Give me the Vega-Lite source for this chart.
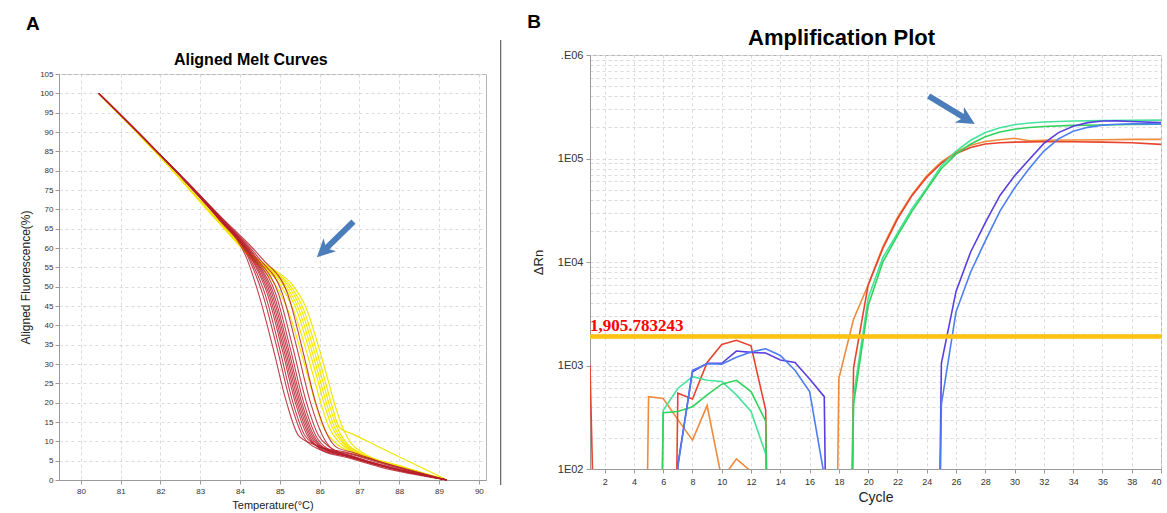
{
"$schema": "https://vega.github.io/schema/vega-lite/v6.json",
"background": "white",
"padding": {"left": 19, "top": 12, "right": 0, "bottom": 0},
"spacing": 24,
"config": {
  "font": "Liberation Sans",
  "view": {"stroke": "#b4b4b4", "strokeWidth": 1},
  "axis": {"gridColor": "#dadada", "gridDash": [3, 3], "domainColor": "#9a9a9a", "tickColor": "#9a9a9a", "labelColor": "#333333", "titleColor": "#222222", "titleFontWeight": "normal", "labelFont": "Liberation Sans", "titleFont": "Liberation Sans", "labelOverlap": false}
},
"datasets": {
"meltRed": [
{"s":1,"t":80.45,"f":100},{"s":1,"t":82.0,"f":84},{"s":1,"t":83.46,"f":67.5},{"s":1,"t":84.16,"f":57.5},{"s":1,"t":84.47,"f":48},{"s":1,"t":84.82,"f":34.5},{"s":1,"t":85.17,"f":20},{"s":1,"t":85.47,"f":11.5},{"s":1,"t":85.9,"f":9},{"s":1,"t":86.59,"f":6.5},{"s":1,"t":87.46,"f":4.2},{"s":1,"t":89.2,"f":0},
{"s":2,"t":80.45,"f":100},{"s":2,"t":82.0,"f":84},{"s":2,"t":83.47,"f":68},{"s":2,"t":84.21,"f":57.5},{"s":2,"t":84.57,"f":48},{"s":2,"t":84.92,"f":34.5},{"s":2,"t":85.27,"f":20},{"s":2,"t":85.57,"f":11.5},{"s":2,"t":85.97,"f":8},{"s":2,"t":86.63,"f":6.2},{"s":2,"t":87.47,"f":3.8},{"s":2,"t":89.2,"f":0},
{"s":3,"t":80.45,"f":100},{"s":3,"t":82.0,"f":84},{"s":3,"t":83.48,"f":67.5},{"s":3,"t":84.24,"f":57.5},{"s":3,"t":84.63,"f":48},{"s":3,"t":84.98,"f":34.5},{"s":3,"t":85.33,"f":20},{"s":3,"t":85.63,"f":11.5},{"s":3,"t":86.02,"f":8.5},{"s":3,"t":86.65,"f":7.2},{"s":3,"t":87.48,"f":4.8},{"s":3,"t":89.2,"f":0},
{"s":4,"t":80.45,"f":100},{"s":4,"t":82.0,"f":84},{"s":4,"t":83.49,"f":67.5},{"s":4,"t":84.27,"f":57.5},{"s":4,"t":84.69,"f":48},{"s":4,"t":85.04,"f":34.5},{"s":4,"t":85.39,"f":20},{"s":4,"t":85.69,"f":11.5},{"s":4,"t":86.06,"f":8},{"s":4,"t":86.68,"f":6.2},{"s":4,"t":87.49,"f":3.8},{"s":4,"t":89.2,"f":0},
{"s":5,"t":80.45,"f":100},{"s":5,"t":82.0,"f":84},{"s":5,"t":83.5,"f":67.5},{"s":5,"t":84.29,"f":57.5},{"s":5,"t":84.73,"f":48},{"s":5,"t":85.08,"f":34.5},{"s":5,"t":85.43,"f":20},{"s":5,"t":85.73,"f":11.5},{"s":5,"t":86.09,"f":7.5},{"s":5,"t":86.69,"f":5.8},{"s":5,"t":87.5,"f":3.4},{"s":5,"t":89.2,"f":0},
{"s":6,"t":80.45,"f":100},{"s":6,"t":82.0,"f":84},{"s":6,"t":83.5,"f":67.5},{"s":6,"t":84.31,"f":57.5},{"s":6,"t":84.77,"f":48},{"s":6,"t":85.12,"f":34.5},{"s":6,"t":85.47,"f":20},{"s":6,"t":85.77,"f":11.5},{"s":6,"t":86.11,"f":8},{"s":6,"t":86.71,"f":6.2},{"s":6,"t":87.5,"f":3.8},{"s":6,"t":89.2,"f":0},
{"s":7,"t":80.45,"f":100},{"s":7,"t":82.0,"f":84},{"s":7,"t":83.51,"f":67},{"s":7,"t":84.33,"f":57.5},{"s":7,"t":84.81,"f":48},{"s":7,"t":85.16,"f":34.5},{"s":7,"t":85.51,"f":20},{"s":7,"t":85.81,"f":11.5},{"s":7,"t":86.14,"f":8},{"s":7,"t":86.72,"f":6.2},{"s":7,"t":87.51,"f":3.8},{"s":7,"t":89.2,"f":0},
{"s":8,"t":80.45,"f":100},{"s":8,"t":82.0,"f":84},{"s":8,"t":83.52,"f":67.5},{"s":8,"t":84.35,"f":57.5},{"s":8,"t":84.85,"f":48},{"s":8,"t":85.2,"f":34.5},{"s":8,"t":85.55,"f":20},{"s":8,"t":85.85,"f":11.5},{"s":8,"t":86.17,"f":8},{"s":8,"t":86.74,"f":6.8},{"s":8,"t":87.52,"f":4.4},{"s":8,"t":89.2,"f":0},
{"s":9,"t":80.45,"f":100},{"s":9,"t":82.0,"f":84},{"s":9,"t":83.52,"f":67.5},{"s":9,"t":84.38,"f":57.5},{"s":9,"t":84.9,"f":48},{"s":9,"t":85.25,"f":34.5},{"s":9,"t":85.6,"f":20},{"s":9,"t":85.9,"f":11.5},{"s":9,"t":86.21,"f":8},{"s":9,"t":86.76,"f":6.2},{"s":9,"t":87.52,"f":3.8},{"s":9,"t":89.2,"f":0},
{"s":10,"t":80.45,"f":100},{"s":10,"t":82.0,"f":84},{"s":10,"t":83.53,"f":67.5},{"s":10,"t":84.41,"f":57.5},{"s":10,"t":84.97,"f":48},{"s":10,"t":85.32,"f":34.5},{"s":10,"t":85.67,"f":20},{"s":10,"t":85.97,"f":11.5},{"s":10,"t":86.25,"f":8.5},{"s":10,"t":86.79,"f":6.2},{"s":10,"t":87.53,"f":3.8},{"s":10,"t":89.2,"f":0},
{"s":11,"t":80.45,"f":100},{"s":11,"t":82.0,"f":84},{"s":11,"t":83.55,"f":67.5},{"s":11,"t":84.46,"f":57.5},{"s":11,"t":85.07,"f":48},{"s":11,"t":85.42,"f":34.5},{"s":11,"t":85.77,"f":20},{"s":11,"t":86.07,"f":11.5},{"s":11,"t":86.32,"f":8},{"s":11,"t":86.83,"f":6.2},{"s":11,"t":87.55,"f":3.8},{"s":11,"t":89.2,"f":0},
{"s":12,"t":80.45,"f":100},{"s":12,"t":82.0,"f":84},{"s":12,"t":83.57,"f":67.5},{"s":12,"t":84.53,"f":57.5},{"s":12,"t":85.2,"f":48},{"s":12,"t":85.55,"f":34.5},{"s":12,"t":85.9,"f":20},{"s":12,"t":86.2,"f":11.5},{"s":12,"t":86.42,"f":8.5},{"s":12,"t":86.88,"f":7},{"s":12,"t":87.57,"f":4.5},{"s":12,"t":89.2,"f":0}
],
"meltYellow": [
{"s":1,"t":80.45,"f":100},{"s":1,"t":82.0,"f":83.5},{"s":1,"t":83.47,"f":66.5},{"s":1,"t":84.31,"f":57},{"s":1,"t":84.62,"f":54},{"s":1,"t":84.88,"f":50.5},{"s":1,"t":85.2,"f":44},{"s":1,"t":85.45,"f":36},{"s":1,"t":85.7,"f":27},{"s":1,"t":85.9,"f":19.5},{"s":1,"t":86.1,"f":13.5},{"s":1,"t":86.41,"f":9.5},{"s":1,"t":86.85,"f":7},{"s":1,"t":87.94,"f":3.6},{"s":1,"t":89.2,"f":0},
{"s":2,"t":80.45,"f":100},{"s":2,"t":82.0,"f":83.5},{"s":2,"t":83.48,"f":66.5},{"s":2,"t":84.35,"f":57},{"s":2,"t":84.7,"f":54},{"s":2,"t":85.01,"f":50.5},{"s":2,"t":85.34,"f":44},{"s":2,"t":85.59,"f":36},{"s":2,"t":85.84,"f":27},{"s":2,"t":86.04,"f":19.5},{"s":2,"t":86.24,"f":13.5},{"s":2,"t":86.52,"f":9.5},{"s":2,"t":86.92,"f":7},{"s":2,"t":87.97,"f":3.6},{"s":2,"t":89.2,"f":0},
{"s":3,"t":80.45,"f":100},{"s":3,"t":82.0,"f":83.5},{"s":3,"t":83.49,"f":66.5},{"s":3,"t":84.38,"f":57},{"s":3,"t":84.75,"f":54},{"s":3,"t":85.08,"f":50.5},{"s":3,"t":85.42,"f":44},{"s":3,"t":85.67,"f":36},{"s":3,"t":85.92,"f":27},{"s":3,"t":86.12,"f":19.5},{"s":3,"t":86.32,"f":13.5},{"s":3,"t":86.59,"f":9.5},{"s":3,"t":86.96,"f":7},{"s":3,"t":87.98,"f":3.6},{"s":3,"t":89.2,"f":0},
{"s":4,"t":80.45,"f":100},{"s":4,"t":82.0,"f":83.5},{"s":4,"t":83.5,"f":66.5},{"s":4,"t":84.39,"f":57},{"s":4,"t":84.79,"f":54},{"s":4,"t":85.13,"f":50.5},{"s":4,"t":85.48,"f":44},{"s":4,"t":85.73,"f":36},{"s":4,"t":85.98,"f":27},{"s":4,"t":86.18,"f":19.5},{"s":4,"t":86.38,"f":13.5},{"s":4,"t":86.63,"f":9.5},{"s":4,"t":86.99,"f":7},{"s":4,"t":88.0,"f":3.6},{"s":4,"t":89.2,"f":0},
{"s":5,"t":80.45,"f":100},{"s":5,"t":82.0,"f":83.5},{"s":5,"t":83.5,"f":66.5},{"s":5,"t":84.41,"f":57},{"s":5,"t":84.82,"f":54},{"s":5,"t":85.19,"f":50.5},{"s":5,"t":85.54,"f":44},{"s":5,"t":85.79,"f":36},{"s":5,"t":86.04,"f":27},{"s":5,"t":86.24,"f":19.5},{"s":5,"t":86.44,"f":13.5},{"s":5,"t":86.68,"f":9.5},{"s":5,"t":87.02,"f":7},{"s":5,"t":88.01,"f":3.6},{"s":5,"t":89.2,"f":0},
{"s":6,"t":80.45,"f":100},{"s":6,"t":82.0,"f":83.5},{"s":6,"t":83.51,"f":66.5},{"s":6,"t":84.43,"f":57},{"s":6,"t":84.86,"f":54},{"s":6,"t":85.24,"f":50.5},{"s":6,"t":85.6,"f":44},{"s":6,"t":85.85,"f":36},{"s":6,"t":86.1,"f":27},{"s":6,"t":86.3,"f":19.5},{"s":6,"t":86.5,"f":13.5},{"s":6,"t":86.85,"f":11.8},{"s":6,"t":87.4,"f":9.0},{"s":6,"t":88.2,"f":5.0},{"s":6,"t":89.2,"f":0},
{"s":7,"t":80.45,"f":100},{"s":7,"t":82.0,"f":83.5},{"s":7,"t":83.52,"f":66.5},{"s":7,"t":84.45,"f":57},{"s":7,"t":84.91,"f":54},{"s":7,"t":85.31,"f":50.5},{"s":7,"t":85.68,"f":44},{"s":7,"t":85.93,"f":36},{"s":7,"t":86.18,"f":27},{"s":7,"t":86.38,"f":19.5},{"s":7,"t":86.58,"f":13.5},{"s":7,"t":86.79,"f":9.5},{"s":7,"t":87.09,"f":7},{"s":7,"t":88.04,"f":3.6},{"s":7,"t":89.2,"f":0}
],
"amp": [
{"s":"orange","c":4,"v":1e-8},{"s":"orange","c":5,"v":500},{"s":"orange","c":6,"v":480},{"s":"orange","c":7,"v":300},{"s":"orange","c":8,"v":190},{"s":"orange","c":9,"v":410},{"s":"orange","c":10,"v":80},{"s":"orange","c":11,"v":125},{"s":"orange","c":12,"v":95},{"s":"orange","c":13,"v":1e-8},{"s":"orange","c":17,"v":1e-8},{"s":"orange","c":18,"v":750},{"s":"orange","c":19,"v":2800},{"s":"orange","c":20,"v":6000},{"s":"orange","c":21,"v":14000},{"s":"orange","c":22,"v":27000},{"s":"orange","c":23,"v":45000},{"s":"orange","c":24,"v":68000},{"s":"orange","c":25,"v":93000},{"s":"orange","c":26,"v":116000},{"s":"orange","c":27,"v":134000},{"s":"orange","c":28,"v":146000},{"s":"orange","c":29,"v":152000},{"s":"orange","c":30,"v":157000},{"s":"orange","c":31,"v":148000},{"s":"orange","c":32,"v":150000},{"s":"orange","c":34,"v":151000},{"s":"orange","c":36,"v":152000},{"s":"orange","c":38,"v":153000},{"s":"orange","c":40,"v":153000},
{"s":"red","c":1,"v":1000},{"s":"red","c":2,"v":0.001},{"s":"red","c":6,"v":1e-8},{"s":"red","c":7,"v":540},{"s":"red","c":8,"v":475},{"s":"red","c":9,"v":1070},{"s":"red","c":10,"v":1600},{"s":"red","c":11,"v":1750},{"s":"red","c":12,"v":1550},{"s":"red","c":13,"v":370},{"s":"red","c":14,"v":1e-8},{"s":"red","c":18,"v":1e-8},{"s":"red","c":19,"v":950},{"s":"red","c":20,"v":6000},{"s":"red","c":21,"v":13500},{"s":"red","c":22,"v":26000},{"s":"red","c":23,"v":44000},{"s":"red","c":24,"v":66000},{"s":"red","c":25,"v":90000},{"s":"red","c":26,"v":112000},{"s":"red","c":27,"v":128000},{"s":"red","c":28,"v":138000},{"s":"red","c":29,"v":142000},{"s":"red","c":30,"v":144000},{"s":"red","c":32,"v":145000},{"s":"red","c":34,"v":145000},{"s":"red","c":36,"v":144000},{"s":"red","c":38,"v":142000},{"s":"red","c":40,"v":137000},
{"s":"green1","c":5,"v":1e-8},{"s":"green1","c":6,"v":370},{"s":"green1","c":7,"v":600},{"s":"green1","c":8,"v":780},{"s":"green1","c":9,"v":720},{"s":"green1","c":10,"v":700},{"s":"green1","c":11,"v":520},{"s":"green1","c":12,"v":360},{"s":"green1","c":13,"v":140},{"s":"green1","c":14,"v":1e-8},{"s":"green1","c":18,"v":1e-8},{"s":"green1","c":19,"v":500},{"s":"green1","c":20,"v":4500},{"s":"green1","c":21,"v":11000},{"s":"green1","c":22,"v":19000},{"s":"green1","c":23,"v":33000},{"s":"green1","c":24,"v":52000},{"s":"green1","c":25,"v":85000},{"s":"green1","c":26,"v":118000},{"s":"green1","c":27,"v":150000},{"s":"green1","c":28,"v":178000},{"s":"green1","c":29,"v":198000},{"s":"green1","c":30,"v":212000},{"s":"green1","c":31,"v":220000},{"s":"green1","c":32,"v":225000},{"s":"green1","c":33,"v":228000},{"s":"green1","c":34,"v":230000},{"s":"green1","c":36,"v":232000},{"s":"green1","c":38,"v":234000},{"s":"green1","c":40,"v":235000},
{"s":"green2","c":5,"v":1e-8},{"s":"green2","c":6,"v":350},{"s":"green2","c":7,"v":360},{"s":"green2","c":8,"v":400},{"s":"green2","c":9,"v":520},{"s":"green2","c":10,"v":660},{"s":"green2","c":11,"v":720},{"s":"green2","c":12,"v":560},{"s":"green2","c":13,"v":290},{"s":"green2","c":14,"v":1e-8},{"s":"green2","c":18,"v":1e-8},{"s":"green2","c":19,"v":420},{"s":"green2","c":20,"v":3800},{"s":"green2","c":21,"v":10000},{"s":"green2","c":22,"v":18000},{"s":"green2","c":23,"v":31000},{"s":"green2","c":24,"v":50000},{"s":"green2","c":25,"v":80000},{"s":"green2","c":26,"v":110000},{"s":"green2","c":27,"v":138000},{"s":"green2","c":28,"v":162000},{"s":"green2","c":29,"v":180000},{"s":"green2","c":30,"v":192000},{"s":"green2","c":31,"v":199000},{"s":"green2","c":32,"v":204000},{"s":"green2","c":34,"v":209000},{"s":"green2","c":36,"v":211000},{"s":"green2","c":38,"v":213000},{"s":"green2","c":40,"v":215000},
{"s":"blue1","c":6,"v":1e-8},{"s":"blue1","c":7,"v":110},{"s":"blue1","c":8,"v":870},{"s":"blue1","c":9,"v":1050},{"s":"blue1","c":10,"v":1050},{"s":"blue1","c":11,"v":1380},{"s":"blue1","c":12,"v":1340},{"s":"blue1","c":13,"v":1320},{"s":"blue1","c":14,"v":1130},{"s":"blue1","c":15,"v":1070},{"s":"blue1","c":16,"v":740},{"s":"blue1","c":17,"v":500},{"s":"blue1","c":18,"v":1e-8},{"s":"blue1","c":24,"v":1e-8},{"s":"blue1","c":25,"v":1050},{"s":"blue1","c":26,"v":5200},{"s":"blue1","c":27,"v":12500},{"s":"blue1","c":28,"v":24000},{"s":"blue1","c":29,"v":44000},{"s":"blue1","c":30,"v":68000},{"s":"blue1","c":31,"v":98000},{"s":"blue1","c":32,"v":140000},{"s":"blue1","c":33,"v":178000},{"s":"blue1","c":34,"v":205000},{"s":"blue1","c":35,"v":222000},{"s":"blue1","c":36,"v":230000},{"s":"blue1","c":37,"v":231000},{"s":"blue1","c":38,"v":228000},{"s":"blue1","c":40,"v":222000},
{"s":"blue2","c":6,"v":1e-8},{"s":"blue2","c":7,"v":105},{"s":"blue2","c":8,"v":900},{"s":"blue2","c":9,"v":1040},{"s":"blue2","c":10,"v":1030},{"s":"blue2","c":11,"v":1200},{"s":"blue2","c":12,"v":1350},{"s":"blue2","c":13,"v":1450},{"s":"blue2","c":14,"v":1250},{"s":"blue2","c":15,"v":900},{"s":"blue2","c":16,"v":560},{"s":"blue2","c":17,"v":86},{"s":"blue2","c":18,"v":1e-8},{"s":"blue2","c":24,"v":1e-8},{"s":"blue2","c":25,"v":420},{"s":"blue2","c":26,"v":3300},{"s":"blue2","c":27,"v":8000},{"s":"blue2","c":28,"v":16000},{"s":"blue2","c":29,"v":31000},{"s":"blue2","c":30,"v":52000},{"s":"blue2","c":31,"v":80000},{"s":"blue2","c":32,"v":118000},{"s":"blue2","c":33,"v":155000},{"s":"blue2","c":34,"v":183000},{"s":"blue2","c":35,"v":200000},{"s":"blue2","c":36,"v":210000},{"s":"blue2","c":37,"v":214000},{"s":"blue2","c":38,"v":216000},{"s":"blue2","c":40,"v":216000}
]
},
"hconcat": [
{
  "vconcat": [
    {"width": 10, "height": 1, "view": {"stroke": null}, "data": {"values": []}, "mark": "rule", "encoding": {}},
    {
      "width": 427, "height": 406,
      "layer": [
        {"data": {"name": "meltYellow"}, "mark": {"type": "line", "interpolate": "monotone", "color": "#F2E600", "strokeWidth": 1.2},
         "encoding": {
           "x": {"field": "t", "type": "quantitative", "scale": {"domain": [79.45, 90.18], "nice": false, "zero": false},
                 "axis": {"title": "Temperature(°C)", "values": [80,81,82,83,84,85,86,87,88,89,90], "tickCount": 100, "format": "d", "labelFontSize": 8, "tickSize": 4, "labelPadding": 3, "titleFontSize": 11, "titlePadding": 4}},
           "y": {"field": "f", "type": "quantitative", "scale": {"domain": [0, 105], "nice": false, "zero": false},
                 "axis": {"title": "Aligned Fluorescence(%)", "values": [0,5,10,15,20,25,30,35,40,45,50,55,60,65,70,75,80,85,90,95,100,105], "tickCount": 100, "format": "d", "labelFontSize": 8, "tickSize": 4, "labelPadding": 2, "titleFontSize": 12, "titlePadding": 7}},
           "detail": {"field": "s", "type": "nominal"}
         }},
        {"data": {"name": "meltRed"}, "mark": {"type": "line", "interpolate": "monotone", "color": "#B61E2C", "strokeWidth": 1.1, "opacity": 0.85},
         "encoding": {
           "x": {"field": "t", "type": "quantitative"},
           "y": {"field": "f", "type": "quantitative"},
           "detail": {"field": "s", "type": "nominal"}
         }},
        {"data": {"values": [{"t": 86.85, "f": 66.8, "t2": 86.11, "f2": 59.4}]}, "mark": {"type": "rule", "color": "#4A7DBA", "strokeWidth": 6},
         "encoding": {"x": {"field": "t", "type": "quantitative"}, "y": {"field": "f", "type": "quantitative"}, "x2": {"field": "t2"}, "y2": {"field": "f2"}}},
        {"data": {"values": [{"t": 85.93, "f": 57.6}]}, "mark": {"type": "point", "shape": "M0,0L0.95,1.9L0,1.35L-0.95,1.9Z", "filled": true, "color": "#4A7DBA", "size": 361, "angle": 226, "opacity": 1},
         "encoding": {"x": {"field": "t", "type": "quantitative"}, "y": {"field": "f", "type": "quantitative"}}},
        {"data": {"values": [{"t": 78.62, "f": 116.4, "label": "A"}]}, "mark": {"type": "text", "align": "left", "baseline": "alphabetic", "fontSize": 19, "fontWeight": "bold", "color": "#000000", "clip": false},
         "encoding": {"x": {"field": "t", "type": "quantitative"}, "y": {"field": "f", "type": "quantitative"}, "text": {"field": "label"}}},
        {"data": {"values": [{"t": 84.27, "f": 107.3, "label": "Aligned Melt Curves"}]}, "mark": {"type": "text", "align": "center", "baseline": "alphabetic", "fontSize": 16, "fontWeight": "bold", "color": "#000000", "clip": false},
         "encoding": {"x": {"field": "t", "type": "quantitative"}, "y": {"field": "f", "type": "quantitative"}, "text": {"field": "label"}}},
        {"data": {"values": [{"t": 90.55, "f": 113.8, "f2": -1.3}]}, "mark": {"type": "rule", "color": "#444444", "strokeWidth": 1, "clip": false},
         "encoding": {"x": {"field": "t", "type": "quantitative"}, "y": {"field": "f", "type": "quantitative"}, "y2": {"field": "f2"}}}
      ]
    }
  ],
  "spacing": 18,
  "bounds": "flush"
},
{
  "width": 571, "height": 414,
  "layer": [
    {"data": {"name": "amp"}, "mark": {"type": "line", "strokeWidth": 1.6, "clip": true},
     "encoding": {
       "x": {"field": "c", "type": "quantitative", "scale": {"domain": [1, 40], "nice": false, "zero": false},
             "axis": {"title": "Cycle", "values": [2,4,6,8,10,12,14,16,18,20,22,24,26,28,30,32,34,36,38,40], "tickCount": 100, "format": "d", "labelFontSize": 9, "tickSize": 4, "labelPadding": 4, "titleFontSize": 14, "titlePadding": 4}},
       "y": {"field": "v", "type": "quantitative", "scale": {"type": "log", "domain": [100, 1000000], "nice": false},
             "axis": {"title": "ΔRn", "values": [100,200,300,400,500,600,700,800,900,1000,2000,3000,4000,5000,6000,7000,8000,9000,10000,20000,30000,40000,50000,60000,70000,80000,90000,100000,200000,300000,400000,500000,600000,700000,800000,900000,1000000], "tickCount": 100,
                      "labelExpr": "datum.value == 1000000 ? '.E06' : datum.value == 100000 ? '1E05' : datum.value == 10000 ? '1E04' : datum.value == 1000 ? '1E03' : datum.value == 100 ? '1E02' : ''",
                      "labelFontSize": 11, "labelPadding": 3, "tickSize": 4,
                      "tickOpacity": {"condition": {"test": "indexof([100,1000,10000,100000,1000000], datum.value) >= 0", "value": 1}, "value": 0},
                      "titleFontSize": 13, "titlePadding": 12}},
       "color": {"field": "s", "type": "nominal", "scale": {"domain": ["orange","red","green1","green2","blue1","blue2"], "range": ["#F08A3C","#E8432D","#45E39B","#2FD35A","#5A3FE0","#4C7EF2"]}, "legend": null}
     }},
    {"data": {"values": [{"v": 1905.783243}]}, "mark": {"type": "rule", "color": "#FFC20E", "strokeWidth": 4.5},
     "encoding": {"y": {"field": "v", "type": "quantitative"}}},
    {"data": {"values": [{"c": 1, "v": 1905.783243, "label": "1,905.783243"}]}, "mark": {"type": "text", "align": "left", "baseline": "bottom", "dy": -2, "font": "Liberation Serif", "fontSize": 17, "fontWeight": "bold", "color": "#FF0000"},
     "encoding": {"x": {"field": "c", "type": "quantitative"}, "y": {"field": "v", "type": "quantitative"}, "text": {"field": "label"}}},
    {"data": {"values": [{"c": 24.13, "v": 401700, "c2": 26.69, "v2": 242000}]}, "mark": {"type": "rule", "color": "#4A7DBA", "strokeWidth": 6},
     "encoding": {"x": {"field": "c", "type": "quantitative"}, "y": {"field": "v", "type": "quantitative"}, "x2": {"field": "c2"}, "y2": {"field": "v2"}}},
    {"data": {"values": [{"c": 27.28, "v": 215400}]}, "mark": {"type": "point", "shape": "M0,0L0.95,1.9L0,1.35L-0.95,1.9Z", "filled": true, "color": "#4A7DBA", "size": 361, "angle": 121, "opacity": 1},
     "encoding": {"x": {"field": "c", "type": "quantitative"}, "y": {"field": "v", "type": "quantitative"}}},
    {"data": {"values": [{"c": -3.29, "v": 1820000, "label": "B"}]}, "mark": {"type": "text", "align": "left", "baseline": "alphabetic", "fontSize": 19, "fontWeight": "bold", "color": "#000000", "clip": false},
     "encoding": {"x": {"field": "c", "type": "quantitative"}, "y": {"field": "v", "type": "quantitative"}, "text": {"field": "label"}}},
    {"data": {"values": [{"c": 18.18, "v": 1250000, "label": "Amplification Plot"}]}, "mark": {"type": "text", "align": "center", "baseline": "alphabetic", "fontSize": 22, "fontWeight": "bold", "color": "#000000", "clip": false},
     "encoding": {"x": {"field": "c", "type": "quantitative"}, "y": {"field": "v", "type": "quantitative"}, "text": {"field": "label"}}}
  ]
}
]
}
